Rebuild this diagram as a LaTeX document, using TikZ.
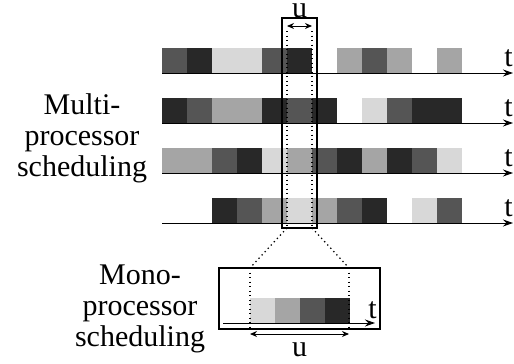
\documentclass[tikz,border=0pt]{standalone}
\usepackage{fontspec}
\setmainfont{Liberation Serif}
\usetikzlibrary{arrows.meta}
\definecolor{tone1}{HTML}{D8D8D8}
\definecolor{tone2}{HTML}{A5A5A5}
\definecolor{tone3}{HTML}{555555}
\definecolor{tone4}{HTML}{282828}
\begin{document}
\begin{tikzpicture}[x=1pt,y=-1pt]
\tikzstyle{every node}+=[inner sep=0pt]
\tikzstyle{axis}=[black, line width=1pt, -{Stealth[length=10pt,width=7pt]}]
\tikzstyle{span}=[black, line width=1pt, {Stealth[length=7pt,width=6pt]}-{Stealth[length=7pt,width=6pt]}]
\tikzstyle{zoomline}=[black, line width=1.3pt, dash pattern=on 1.3pt off 3.2pt]
\tikzstyle{frame}=[draw, black, line width=1.5pt]
\tikzstyle{big}=[font=\fontsize{30}{31}\selectfont]
\useasboundingbox (0,0) rectangle (514,364);
% four processors, 0 = idle, 1..4 = light to dark
\foreach \row [count=\r] in {{3,4,1,1,3,4,0,2,3,2,0,2},
                              {4,3,2,2,4,3,4,0,1,3,4,4},
                              {2,2,3,4,1,2,3,4,2,4,3,1},
                              {0,0,4,3,2,1,2,3,4,0,1,3}}{
  \pgfmathsetmacro{\ly}{23+50*\r}
  \foreach \c [count=\i from 0] in \row {
    \ifnum\c>0
      \fill [tone\c] (162+25*\i,\ly-25) rectangle (187+25*\i,\ly);
    \fi
  }
  \coordinate (p\r s) at (162,\ly);
  \coordinate (p\r e) at (513,\ly);
  \draw [axis] (p\r s) -- (p\r e);
  \node [big, anchor=base east] (t\r) at (513,\ly-7) {t};
}
\node [big, align=center] (multi) at (82,138) {Multi-\\processor\\scheduling};
% window of length u
\node [frame, minimum width=35pt, minimum height=210pt] (win) at (299.5,123) {};
\coordinate (wl) at (287,31);
\coordinate (wr) at (312,31);
\coordinate (wlb) at (287,228);
\coordinate (wrb) at (312,228);
\draw [zoomline] (wl) -- (wlb);
\draw [zoomline] (wr) -- (wrb);
\draw [span] (287,26) -- (312,26);
\node [big, anchor=base] (u1) at (299.5,17.5) {u};
% mono processor
\node [frame, minimum width=161pt, minimum height=61pt] (mono) at (299.5,298.5) {};
\coordinate (ml) at (250,268);
\coordinate (mr) at (349,268);
\coordinate (mlb) at (250,329);
\coordinate (mrb) at (349,329);
\foreach \c [count=\i from 0] in {1,2,3,4}
  \fill [tone\c] (250+25*\i,298) rectangle (274.75+25*\i,323);
\draw [zoomline] (ml) -- (mlb);
\draw [zoomline] (mr) -- (mrb);
\draw [zoomline] (wlb) -- (ml);
\draw [zoomline] (wrb) -- (mr);
\coordinate (ms) at (223,323);
\coordinate (me) at (375,323);
\draw [axis] (ms) -- (me);
\node [big, anchor=base east] (tm) at (377,318) {t};
\coordinate (ul) at (250,334);
\coordinate (ur) at (349,334);
\draw [span] (ul) -- (ur);
\node [big, anchor=base] (u2) at (299.5,356) {u};
\node [big, align=center] (monotext) at (140,309) {Mono-\\processor\\scheduling};
\end{tikzpicture}
\end{document}
